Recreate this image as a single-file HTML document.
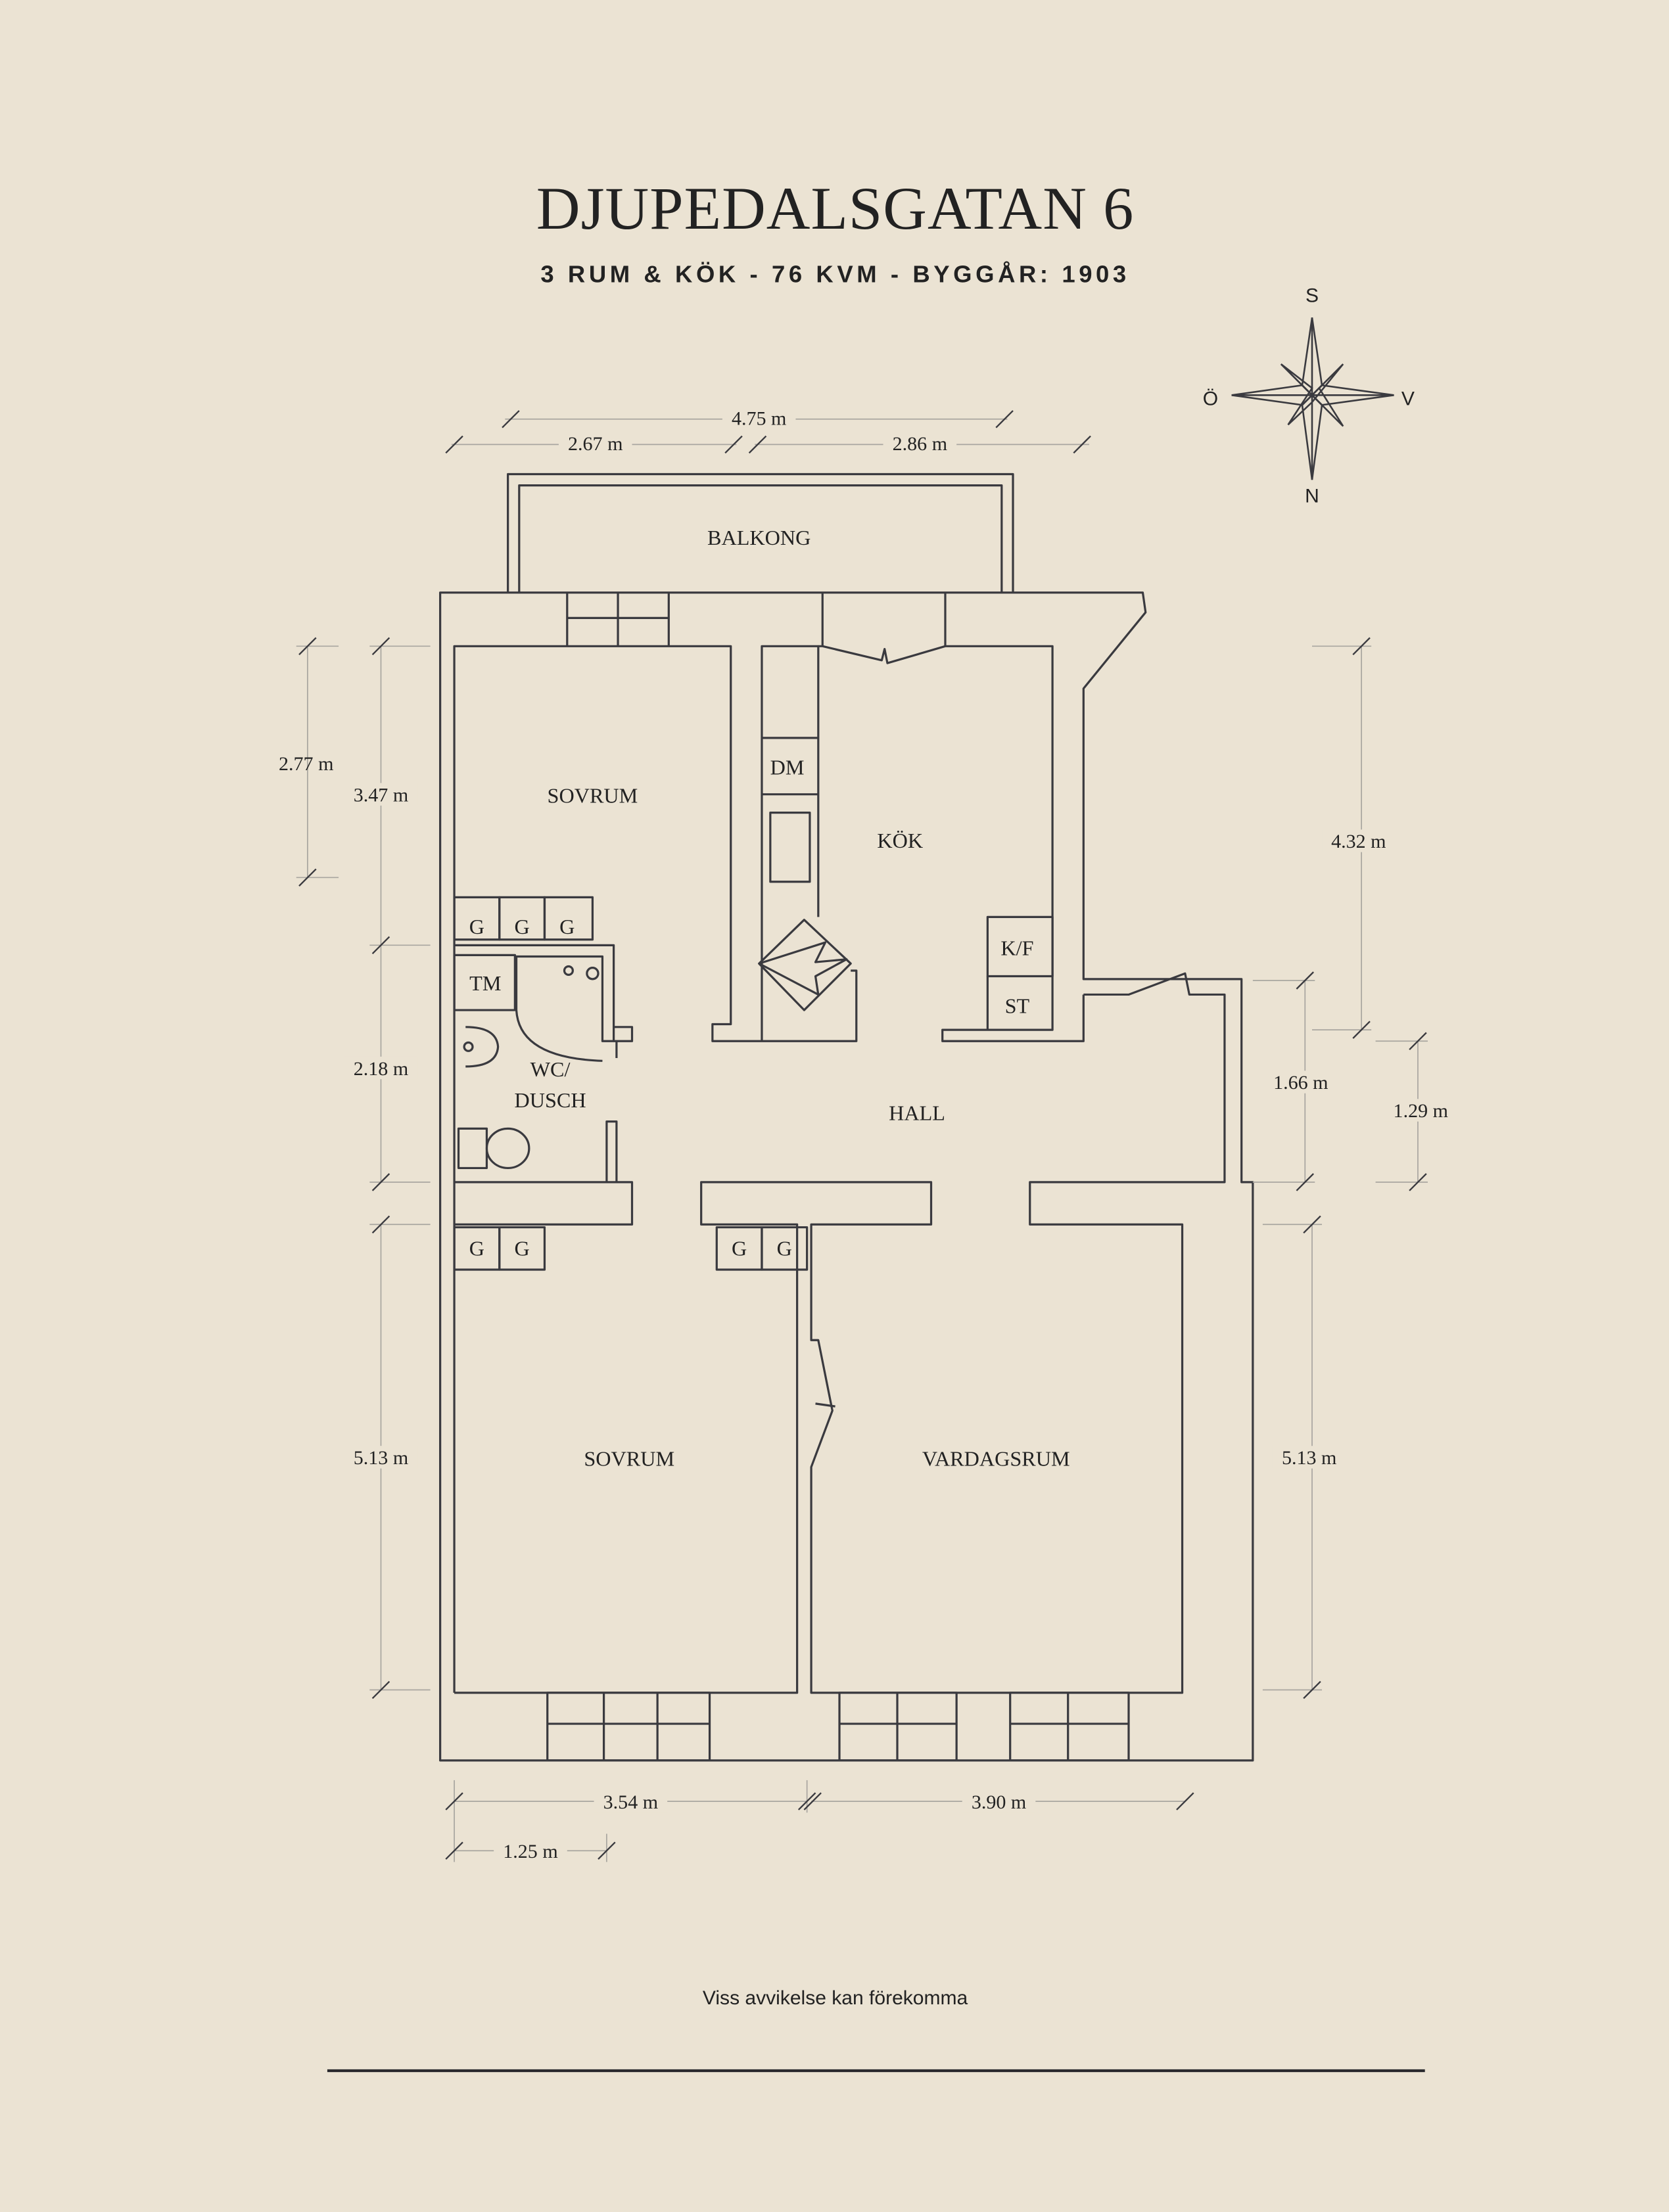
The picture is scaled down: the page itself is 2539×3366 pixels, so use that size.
<!DOCTYPE html>
<html><head><meta charset="utf-8"><style>
html,body{margin:0;padding:0;background:#ebe3d3;}
svg{display:block}
.w{fill:none;stroke:#3a3a3f;stroke-width:1.5;stroke-linejoin:round}
.d{fill:none;stroke:#a9a6a0;stroke-width:0.8}
.t{stroke:#3a3a3f;stroke-width:1.1}
.l{font-family:"Liberation Serif",serif;font-size:15px;fill:#222;text-anchor:middle}
.m{font-family:"Liberation Serif",serif;font-size:14px;fill:#222;text-anchor:middle}
</style></head><body>
<svg width="2539" height="3366" viewBox="0 0 1183 1568" xmlns="http://www.w3.org/2000/svg">
<rect width="1183" height="1568" fill="#ebe3d3"/>
<text x="592" y="162" font-family="Liberation Serif,serif" font-size="43" fill="#222" text-anchor="middle" letter-spacing="0.5">DJUPEDALSGATAN 6</text>
<text x="592" y="200" font-family="Liberation Sans,sans-serif" font-weight="bold" font-size="17" letter-spacing="2.6" fill="#222" text-anchor="middle">3 RUM &amp; KÖK  -  76 KVM  -  BYGGÅR: 1903</text>

<!-- compass -->
<g fill="none" stroke="#3a3a3f" stroke-width="1.2">
<polygon points="930,225 937,273 930,280 923,273"/>
<polygon points="930,340 937,287 930,280 923,287"/>
<polygon points="873,280 923,273 930,280 923,287"/>
<polygon points="988,280 937,273 930,280 937,287"/>
<polygon points="908,258 930,275 913,301 930,285 952,258 935,275 952,302 935,285"/>
<line x1="930" y1="225" x2="930" y2="340"/><line x1="873" y1="280" x2="988" y2="280"/>
</g>
<g font-family="Liberation Sans,sans-serif" font-size="14" fill="#222" text-anchor="middle">
<text x="930" y="214">S</text><text x="930" y="356">N</text><text x="858" y="287">Ö</text><text x="998" y="287">V</text></g>

<!-- walls -->
<g class="w">
<polyline points="360,420 360,336 718,336 718,420"/>
<polyline points="368,420 368,344 710,344 710,420"/>
<polygon points="312,420 810,420 812,434 768,488 768,694 880,694 880,838 888,838 888,1248 312,1248"/>
<line x1="402" y1="420" x2="402" y2="458"/><line x1="438" y1="420" x2="438" y2="458"/><line x1="474" y1="420" x2="474" y2="458"/><line x1="402" y1="438" x2="474" y2="438"/>
<line x1="583" y1="420" x2="583" y2="458"/><line x1="670" y1="420" x2="670" y2="458"/>
<polyline points="322,1200 322,458 518,458 518,726 505,726 505,738 607,738 607,726"/>
<polyline points="540,738 540,458 580,458 580,650"/>
<line x1="540" y1="523" x2="580" y2="523"/><line x1="540" y1="563" x2="580" y2="563"/>
<rect x="546" y="576" width="28" height="49"/>
<polygon points="570,652 603,683 570,716 538,683"/>
<polyline points="538,683 585,668 578,682 600,680 578,692 580,705 540,684"/>
<polyline points="603,688 607,688 607,726"/>
<polyline points="580,458 583,458 625,468 627,460 629,470 670,458 746,458 746,730 668,730 668,738 768,738 768,705"/>
<rect x="700" y="650" width="46" height="42"/><line x1="700" y1="692" x2="700" y2="730"/>
<polyline points="768,705 800,705 840,690 843,705 848,705 848,705 868,705 868,838 730,838 730,868 838,868 838,1200 575,1200 575,1040 590,1000 580,950 575,950 575,878 575,868 660,868 660,838 497,838 497,868 565,868 565,1200 322,1200"/>
<line x1="578" y1="995" x2="592" y2="997"/>
<polyline points="322,838 448,838 448,868 322,868"/>
<polyline points="430,838 430,795 437,795 437,838"/>
<polyline points="322,670 435,670 435,738 427,738 427,678 365,678"/>
<polyline points="435,728 448,728 448,738 435,738"/><line x1="437" y1="738" x2="437" y2="750"/>
<rect x="322" y="677" width="43" height="39"/>
<path d="M366,678 L366,716 Q368,750 427,752"/>
<path d="M330,728 Q352,728 353,742 Q352,756 330,756"/>
<circle cx="332" cy="742" r="3"/><circle cx="403" cy="688" r="3"/><circle cx="420" cy="690" r="4"/>
<rect x="325" y="800" width="20" height="28"/><ellipse cx="360" cy="814" rx="15" ry="14"/>
<rect x="322" y="636" width="32" height="30"/><rect x="354" y="636" width="32" height="30"/><rect x="386" y="636" width="34" height="30"/>
<rect x="322" y="870" width="32" height="30"/><rect x="354" y="870" width="32" height="30"/>
<rect x="508" y="870" width="32" height="30"/><rect x="540" y="870" width="32" height="30"/>
<rect x="388" y="1200" width="115" height="48"/><line x1="388" y1="1222" x2="503" y2="1222"/><line x1="428" y1="1200" x2="428" y2="1248"/><line x1="466" y1="1200" x2="466" y2="1248"/>
<rect x="595" y="1200" width="83" height="48"/><line x1="595" y1="1222" x2="678" y2="1222"/><line x1="636" y1="1200" x2="636" y2="1248"/>
<rect x="716" y="1200" width="84" height="48"/><line x1="716" y1="1222" x2="800" y2="1222"/><line x1="757" y1="1200" x2="757" y2="1248"/>
</g>

<g class="l">
<text x="538" y="386">BALKONG</text><text x="420" y="569">SOVRUM</text><text x="638" y="601">KÖK</text>
<text x="558" y="549">DM</text><text x="721" y="677">K/F</text><text x="721" y="718">ST</text>
<text x="344" y="702">TM</text><text x="390" y="763">WC/</text><text x="390" y="785">DUSCH</text>
<text x="650" y="794">HALL</text><text x="446" y="1039">SOVRUM</text><text x="706" y="1039">VARDAGSRUM</text>
<g font-size="15"><text x="338" y="662">G</text><text x="370" y="662">G</text><text x="402" y="662">G</text>
<text x="338" y="890">G</text><text x="370" y="890">G</text><text x="524" y="890">G</text><text x="556" y="890">G</text></g>
</g>

<g class="d">
<line x1="358" y1="297" x2="714" y2="297"/><line x1="320" y1="315" x2="522" y2="315"/><line x1="535" y1="315" x2="772" y2="315"/>
<line x1="218" y1="458" x2="218" y2="622"/><line x1="210" y1="458" x2="240" y2="458"/><line x1="210" y1="622" x2="240" y2="622"/>
<line x1="270" y1="458" x2="270" y2="838"/><line x1="262" y1="458" x2="305" y2="458"/><line x1="262" y1="670" x2="305" y2="670"/><line x1="262" y1="838" x2="305" y2="838"/>
<line x1="270" y1="868" x2="270" y2="1198"/><line x1="262" y1="868" x2="305" y2="868"/><line x1="262" y1="1198" x2="305" y2="1198"/>
<line x1="965" y1="458" x2="965" y2="730"/><line x1="930" y1="458" x2="972" y2="458"/><line x1="930" y1="730" x2="972" y2="730"/>
<line x1="925" y1="695" x2="925" y2="838"/><line x1="888" y1="695" x2="932" y2="695"/><line x1="888" y1="838" x2="932" y2="838"/>
<line x1="1005" y1="738" x2="1005" y2="838"/><line x1="975" y1="738" x2="1012" y2="738"/><line x1="975" y1="838" x2="1012" y2="838"/>
<line x1="930" y1="868" x2="930" y2="1198"/><line x1="895" y1="868" x2="937" y2="868"/><line x1="895" y1="1198" x2="937" y2="1198"/>
<line x1="322" y1="1277" x2="572" y2="1277"/><line x1="575" y1="1277" x2="840" y2="1277"/><line x1="322" y1="1312" x2="430" y2="1312"/>
<line x1="322" y1="1262" x2="322" y2="1320"/><line x1="430" y1="1300" x2="430" y2="1320"/><line x1="572" y1="1262" x2="572" y2="1285"/>
</g>
<g class="t">
<line x1="356" y1="303" x2="368" y2="291"/><line x1="706" y1="303" x2="718" y2="291"/>
<line x1="316" y1="321" x2="328" y2="309"/><line x1="514" y1="321" x2="526" y2="309"/><line x1="531" y1="321" x2="543" y2="309"/><line x1="761" y1="321" x2="773" y2="309"/>
<line x1="212" y1="464" x2="224" y2="452"/><line x1="212" y1="628" x2="224" y2="616"/>
<line x1="264" y1="464" x2="276" y2="452"/><line x1="264" y1="676" x2="276" y2="664"/><line x1="264" y1="844" x2="276" y2="832"/>
<line x1="264" y1="874" x2="276" y2="862"/><line x1="264" y1="1204" x2="276" y2="1192"/>
<line x1="959" y1="464" x2="971" y2="452"/><line x1="959" y1="736" x2="971" y2="724"/>
<line x1="919" y1="701" x2="931" y2="689"/><line x1="919" y1="844" x2="931" y2="832"/>
<line x1="999" y1="744" x2="1011" y2="732"/><line x1="999" y1="844" x2="1011" y2="832"/>
<line x1="924" y1="874" x2="936" y2="862"/><line x1="924" y1="1204" x2="936" y2="1192"/>
<line x1="316" y1="1283" x2="328" y2="1271"/><line x1="566" y1="1283" x2="578" y2="1271"/><line x1="570" y1="1283" x2="582" y2="1271"/><line x1="834" y1="1283" x2="846" y2="1271"/>
<line x1="316" y1="1318" x2="328" y2="1306"/><line x1="424" y1="1318" x2="436" y2="1306"/>
</g>
<g class="m">
<rect x="512" y="288" width="52" height="16" fill="#ebe3d3"/><text x="538" y="301">4.75 m</text>
<rect x="396" y="306" width="52" height="16" fill="#ebe3d3"/><text x="422" y="319">2.67 m</text>
<rect x="626" y="306" width="52" height="16" fill="#ebe3d3"/><text x="652" y="319">2.86 m</text>
<text x="217" y="546">2.77 m</text>
<rect x="244" y="555" width="52" height="16" fill="#ebe3d3"/><text x="270" y="568">3.47 m</text>
<rect x="244" y="749" width="52" height="16" fill="#ebe3d3"/><text x="270" y="762">2.18 m</text>
<rect x="244" y="1025" width="52" height="16" fill="#ebe3d3"/><text x="270" y="1038">5.13 m</text>
<rect x="937" y="588" width="52" height="16" fill="#ebe3d3"/><text x="963" y="601">4.32 m</text>
<rect x="896" y="759" width="52" height="16" fill="#ebe3d3"/><text x="922" y="772">1.66 m</text>
<rect x="981" y="779" width="52" height="16" fill="#ebe3d3"/><text x="1007" y="792">1.29 m</text>
<rect x="902" y="1025" width="52" height="16" fill="#ebe3d3"/><text x="928" y="1038">5.13 m</text>
<rect x="421" y="1269" width="52" height="16" fill="#ebe3d3"/><text x="447" y="1282">3.54 m</text>
<rect x="682" y="1269" width="52" height="16" fill="#ebe3d3"/><text x="708" y="1282">3.90 m</text>
<rect x="350" y="1304" width="52" height="16" fill="#ebe3d3"/><text x="376" y="1317">1.25 m</text>
</g>

<text x="592" y="1421" font-family="Liberation Sans,sans-serif" font-size="14" fill="#222" text-anchor="middle">Viss avvikelse kan förekomma</text>
<path d="M232,1468 L1010,1468" stroke="#2a2a2e" stroke-width="2"/>
</svg>
</body></html>
